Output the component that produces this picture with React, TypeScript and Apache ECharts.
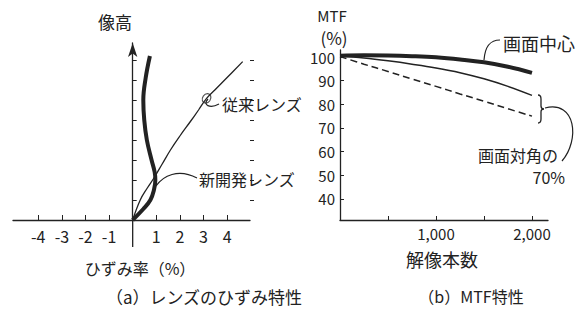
import React, { useEffect, useRef } from "react";
import * as echarts from "echarts";

// ---- (a) distortion: [distortion %, image height (tick units)] ----
const conventionalLens = [
  [0, 0], [0.32, 1.0], [0.62, 1.6], [0.9, 2.1], [1.25, 2.8], [1.6, 3.5], [2.0, 4.2],
  [2.43, 4.9], [2.79, 5.5], [3.13, 6.08], [3.48, 6.5], [3.98, 7.1], [4.66, 7.92],
];
const newLens = [
  [0, 0], [0.45, 0.55], [0.75, 1.0], [0.9, 1.5], [0.96, 2.0], [0.93, 2.4], [0.8, 3.0],
  [0.6, 4.0], [0.49, 5.0], [0.45, 6.0], [0.55, 7.1], [0.73, 8.2],
];
const conventionalMarker = [[3.13, 6.08]];
const distortionTicks = [-4, -3, -2, -1, 1, 2, 3, 4];
const heightTicks = [1, 2, 3, 4, 5, 6, 7, 8];
const heightAxisBottom = -1.35;

// ---- (b) MTF ----
const resolution = [0, 250, 500, 750, 1000, 1250, 1500, 1750, 2000];
const mtfCenter = [100.6, 100.8, 100.7, 100.4, 99.9, 99.0, 97.8, 95.9, 93.3];
const mtfDiagNew = [100.5, 99.6, 98.4, 97.0, 95.4, 93.4, 90.8, 87.6, 83.8];
const mtfDiagOld = [100.2, 97.0, 93.9, 90.7, 87.6, 84.4, 81.3, 78.1, 75.0];
const mtfTicks = [40, 50, 60, 70, 80, 90, 100];
const resolutionTicks = [500, 1000, 1500, 2000];
const resolutionLabels = [1000, 2000];

const INK = "#222";
const FONT = "'Noto Sans CJK JP', 'Noto Sans', sans-serif";

echarts.graphic.registerShape(
  "brace",
  echarts.graphic.extendPath(
    "M0,0 Q3,0 3,4 L3,11 Q3,14 6,14 Q3,14 3,17 L3,24 Q3,28 0,28",
    {}
  )
);

function txt(text: string, x: number, y: number, size: number, align = "center") {
  return {
    type: "text",
    x,
    y,
    style: {
      text,
      fill: INK,
      font: `${size}px ${FONT}`,
      textAlign: align,
      textVerticalAlign: "middle",
    },
  };
}

function curve(x1: number, y1: number, c1x: number, c1y: number, c2x: number, c2y: number, x2: number, y2: number) {
  return {
    type: "bezierCurve",
    shape: { x1, y1, cpx1: c1x, cpy1: c1y, cpx2: c2x, cpy2: c2y, x2, y2 },
    style: { stroke: INK, lineWidth: 1.2, fill: "none" },
  };
}

export default function App() {
  const ref = useRef<HTMLDivElement>(null);
  useEffect(() => {
    if (!ref.current) return;
    const chart = echarts.init(ref.current, undefined, { renderer: "svg" });
    const axisLine = { lineStyle: { color: INK, width: 1.3 } };
    const labelStyle = { color: INK, fontFamily: FONT };
    const annotations: any[] = [
      txt("像高", 115, 21, 17),
      txt("ひずみ率（%）", 140, 268, 16),
      txt("従来レンズ", 222, 104, 16, "left"),
      txt("新開発レンズ", 199, 179, 16, "left"),
      txt("MTF", 332, 15, 15),
      txt("(%)", 334, 37, 17),
      txt("解像本数", 442, 259, 18),
      txt("画面中心", 503, 43, 18, "left"),
      txt("画面対角の", 558, 155, 16, "right"),
      txt("70%", 565, 177, 16, "right"),
      txt("（a）レンズのひずみ特性", 204, 296, 17),
      txt("（b）MTF特性", 471, 296, 16),
      curve(208, 99, 202, 105, 210, 109, 219, 104),
      curve(156, 186, 163, 176, 178, 168, 197, 178),
      curve(484, 60, 485, 46, 490, 40, 500, 40),
      curve(545, 108, 576, 100, 580, 140, 562, 161),
      {
        type: "brace",
        x: 538,
        y: 95,
        style: { stroke: INK, lineWidth: 1.3, fill: "none" },
      },
    ];
    const option: any = {
      animation: false,
      backgroundColor: "#fff",
      grid: [
        { left: 13, right: 334, top: 43, bottom: 101 },
        { left: 340, right: 36, top: 50, bottom: 101 },
      ],
      xAxis: [
        {
          type: "value",
          gridIndex: 0,
          min: -5.07,
          max: 4.97,
          splitLine: { show: false },
          axisLine: { ...axisLine, onZero: false },
          axisTick: { show: true, inside: true, length: 5, lineStyle: { color: INK }, customValues: distortionTicks },
          axisLabel: { ...labelStyle, fontSize: 16, margin: 8, customValues: distortionTicks, formatter: (v: number) => String(v) },
        },
        {
          type: "value",
          gridIndex: 1,
          min: 0,
          max: 2167,
          splitLine: { show: false },
          axisLine: { ...axisLine, onZero: false },
          axisTick: { show: true, inside: true, length: 4, lineStyle: { color: INK }, customValues: resolutionTicks },
          axisLabel: {
            ...labelStyle,
            fontSize: 15,
            margin: 6,
            customValues: resolutionLabels,
            formatter: (v: number) => v.toLocaleString("en-US"),
          },
        },
      ],
      yAxis: [
        {
          type: "value",
          gridIndex: 0,
          min: 0,
          max: 8.85,
          splitLine: { show: false },
          axisLine: { ...axisLine, onZero: true, symbol: ["none", "arrow"], symbolSize: [7, 14] },
          axisTick: { show: true, inside: true, length: 4, lineStyle: { color: INK }, customValues: heightTicks },
          axisLabel: { show: false },
        },
        {
          type: "value",
          gridIndex: 0,
          min: 0,
          max: 8.85,
          splitLine: { show: false },
          axisLine: { show: false, onZero: true },
          axisTick: { show: true, inside: false, length: 4, lineStyle: { color: INK }, customValues: heightTicks },
          axisLabel: { show: false },
        },
        {
          type: "value",
          gridIndex: 1,
          min: 31,
          max: 103,
          splitLine: { show: false },
          axisLine: { ...axisLine, onZero: false },
          axisTick: { show: true, inside: true, length: 4, lineStyle: { color: INK }, customValues: mtfTicks },
          axisLabel: { ...labelStyle, fontSize: 15, margin: 5, customValues: mtfTicks },
        },
      ],
      series: [
        {
          name: "従来レンズ",
          type: "line",
          xAxisIndex: 0,
          yAxisIndex: 0,
          data: conventionalLens,
          smooth: 0.4,
          showSymbol: false,
          lineStyle: { color: INK, width: 1.3 },
        },
        {
          name: "新開発レンズ",
          type: "line",
          xAxisIndex: 0,
          yAxisIndex: 0,
          data: newLens,
          smooth: 0.4,
          showSymbol: false,
          lineStyle: { color: INK, width: 4 },
        },
        {
          name: "従来レンズ印",
          type: "scatter",
          xAxisIndex: 0,
          yAxisIndex: 0,
          data: conventionalMarker,
          symbol: "circle",
          symbolSize: [8, 10],
          symbolRotate: -35,
          itemStyle: { color: "rgba(255,255,255,0)", borderColor: INK, borderWidth: 1.2 },
        },
        {
          name: "画面中心",
          type: "line",
          xAxisIndex: 1,
          yAxisIndex: 2,
          data: resolution.map((r, i) => [r, mtfCenter[i]]),
          smooth: 0.4,
          showSymbol: false,
          lineStyle: { color: INK, width: 4 },
        },
        {
          name: "画面対角の70%（新開発レンズ）",
          type: "line",
          xAxisIndex: 1,
          yAxisIndex: 2,
          data: resolution.map((r, i) => [r, mtfDiagNew[i]]),
          smooth: 0.4,
          showSymbol: false,
          lineStyle: { color: INK, width: 1.5 },
        },
        {
          name: "画面対角の70%（従来レンズ）",
          type: "line",
          xAxisIndex: 1,
          yAxisIndex: 2,
          data: resolution.map((r, i) => [r, mtfDiagOld[i]]),
          smooth: 0.4,
          showSymbol: false,
          lineStyle: { color: INK, width: 1.5, type: [7, 4] },
        },
      ],
      graphic: annotations,
    };
    chart.setOption(option);
    // extend the image-height axis below the distortion axis (as in the figure)
    const origin = chart.convertToPixel({ xAxisIndex: 0, yAxisIndex: 0 } as any, [0, 0]) as number[];
    const unit = chart.convertToPixel({ xAxisIndex: 0, yAxisIndex: 0 } as any, [0, 1]) as number[];
    const yBottom = origin[1] + (unit[1] - origin[1]) * heightAxisBottom;
    chart.setOption({
      graphic: [
        ...annotations,
        {
          type: "line",
          shape: { x1: origin[0], y1: origin[1], x2: origin[0], y2: yBottom },
          style: { stroke: INK, lineWidth: 1.3 },
        },
      ],
    });
    return () => chart.dispose();
  }, []);
  return (
    <div
      ref={ref}
      style={{ position: "fixed", left: 0, top: 0, width: 584, height: 321, background: "#fff" }}
    />
  );
}
